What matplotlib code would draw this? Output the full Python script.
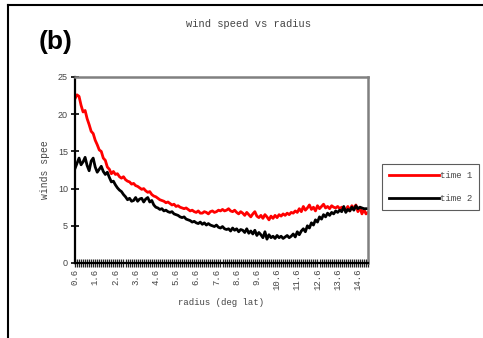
import numpy as np
import matplotlib
matplotlib.use("Agg")
import matplotlib.pyplot as plt
from matplotlib.lines import Line2D

# categories: radius (deg lat), step 0.1
radius = np.round(np.arange(0.6, 15.15, 0.1), 1)
tick_labels = ["0.6", "1.6", "2.6", "3.6", "4.6", "5.6", "6.6", "7.6",
               "8.6", "9.6", "10.6", "11.6", "12.6", "13.6", "14.6"]
y_ticks = [0, 5, 10, 15, 20, 25]

time1 = [22.1, 22.6, 22.4, 21.2, 20.3, 20.5, 19.4, 18.6, 17.7, 17.4,
         16.5, 15.9, 15.2, 15.0, 14.1, 13.8, 12.9, 12.6, 12.0, 12.3,
         11.9, 12.0, 11.6, 11.4, 11.6, 11.2, 11.0, 10.9, 10.6, 10.7,
         10.4, 10.3, 10.1, 9.9, 10.0, 9.7, 9.5, 9.6, 9.2, 9.0,
         8.9, 8.7, 8.5, 8.4, 8.3, 8.1, 8.2, 8.0, 7.8, 7.9,
         7.6, 7.7, 7.5, 7.4, 7.3, 7.4, 7.2, 7.0, 7.1, 6.9,
         6.8, 7.0, 6.7, 6.7, 6.9, 6.8, 6.6, 6.9, 7.0, 6.8,
         6.9, 7.1, 7.0, 7.2, 7.0, 7.1, 7.3, 7.0, 6.9, 7.1,
         6.8, 6.6, 6.9, 6.7, 6.4, 6.8, 6.5, 6.2, 6.6, 6.9,
         6.3, 6.1, 6.4, 6.0, 6.5, 6.2, 5.8, 6.3, 6.0, 6.4,
         6.1, 6.5, 6.3, 6.6, 6.4, 6.7, 6.5, 6.8, 6.7, 7.0,
         6.8, 7.3, 6.9, 7.6, 7.1, 7.4, 7.8, 7.2, 7.5, 7.0,
         7.7, 7.3, 7.6, 7.9, 7.4, 7.6, 7.3, 7.7, 7.5, 7.4,
         7.6, 7.3, 7.5, 7.2, 7.1, 7.6, 7.0, 7.7, 7.3, 7.8,
         6.9, 7.5, 6.6, 7.2, 6.6, 6.8]

time2 = [12.7, 13.4, 14.1, 13.2, 13.6, 14.2, 13.1, 12.4, 13.7, 14.1,
         12.9, 12.2, 12.6, 13.0, 12.3, 11.9, 12.2, 11.5, 10.9, 11.0,
         10.5, 10.1, 9.8, 9.6, 9.2, 8.9, 8.5, 8.7, 8.3, 8.4,
         8.8, 8.3, 8.6, 8.7, 8.2, 8.6, 8.8, 8.2, 8.4, 7.8,
         7.5, 7.4, 7.2, 7.3, 7.0, 7.1, 6.9, 6.8, 6.9, 6.6,
         6.5, 6.4, 6.2, 6.1, 6.2, 5.9, 5.8, 5.7, 5.5, 5.6,
         5.4, 5.3, 5.5, 5.2, 5.4, 5.1, 5.3, 5.1, 5.0, 4.9,
         5.1, 4.8, 4.7, 4.9, 4.6, 4.5, 4.6, 4.3, 4.7, 4.4,
         4.6, 4.2, 4.5, 4.4, 4.1, 4.6, 4.0, 4.3, 3.9, 4.4,
         3.7, 4.1, 3.8, 3.4, 4.2, 3.2, 3.8, 3.4, 3.6, 3.3,
         3.7, 3.4, 3.6, 3.3, 3.5, 3.7, 3.4, 3.6, 3.9, 3.5,
         4.2, 3.8, 4.3, 4.6, 4.2, 5.0, 4.7, 5.4, 5.1, 5.8,
         5.5, 6.2, 5.9, 6.5, 6.2, 6.7, 6.4, 6.8, 6.6, 7.0,
         6.8, 7.1, 6.9, 7.6, 6.8, 7.2, 7.0, 7.5, 7.1, 7.7,
         7.3, 7.5, 7.4, 7.3, 7.3, 7.3]

mono = "Liberation Mono"
sans = "Liberation Sans"
txt_col = "#444444"

fig = plt.figure(figsize=(4.83, 3.38), dpi=100)
fig.patch.set_facecolor("white")

ax = fig.add_axes([75/483, 1-263/338, 293/483, 186/338])
ax.plot(radius, time1, color="#ff0000", lw=2.0, label="time 1")
ax.plot(radius, time2, color="#000000", lw=2.0, label="time 2")

ax.set_xlim(radius[0], radius[-1])
ax.set_ylim(0, 25)

ax.set_xticks(radius[::10])
ax.set_xticklabels(tick_labels, rotation=90, fontfamily=mono, fontsize=6.5,
                   color=txt_col)
ax.set_xticks(radius, minor=True)
ax.tick_params(axis="x", which="both", direction="inout", length=6, width=0.9,
               color="#222222", pad=1)
ax.set_yticks(y_ticks)
ax.set_yticklabels([str(v) for v in y_ticks], fontfamily=sans, fontsize=6.5,
                   color=txt_col)
ax.tick_params(axis="y", direction="inout", length=6, width=1.2, pad=2)

for s in ["left", "bottom"]:
    ax.spines[s].set_color("black")
    ax.spines[s].set_linewidth(1.6)
for s in ["top", "right"]:
    ax.spines[s].set_color("#808080")
    ax.spines[s].set_linewidth(1.8)

ax.set_ylabel("winds spee", fontfamily=mono, fontsize=7, color=txt_col)
ax.yaxis.set_label_coords(-0.085, 0.5)
ax.set_xlabel("radius (deg lat)", fontfamily=mono, fontsize=6.5, color=txt_col)
ax.xaxis.set_label_coords(0.5, -0.19)

fig.text(249/483, 1-24/338, "wind speed vs radius", fontfamily=mono,
         fontsize=7.5, ha="center", va="center", color=txt_col)
fig.text(56/483, 1-42/338, "(b)", fontfamily=sans, fontweight="bold",
         fontsize=19, ha="center", va="center")

leg = fig.legend(loc="center left", bbox_to_anchor=(382/483, 1-187/338),
                 prop={"family": mono, "size": 6.5}, frameon=True,
                 fancybox=False, edgecolor="#333333", handlelength=5.5,
                 handletextpad=0.1, labelspacing=1.5, borderpad=0.8,
                 borderaxespad=0)
leg.get_frame().set_linewidth(0.8)
for t in leg.get_texts():
    t.set_color(txt_col)

fig.add_artist(Line2D([8/483, 1.0], [1-5/338, 1-5/338], color="black", lw=1.5,
                      transform=fig.transFigure))
fig.add_artist(Line2D([8/483, 8/483], [1-5/338, 0.0], color="black", lw=1.5,
                      transform=fig.transFigure))

fig.savefig("out.png", dpi=100)
